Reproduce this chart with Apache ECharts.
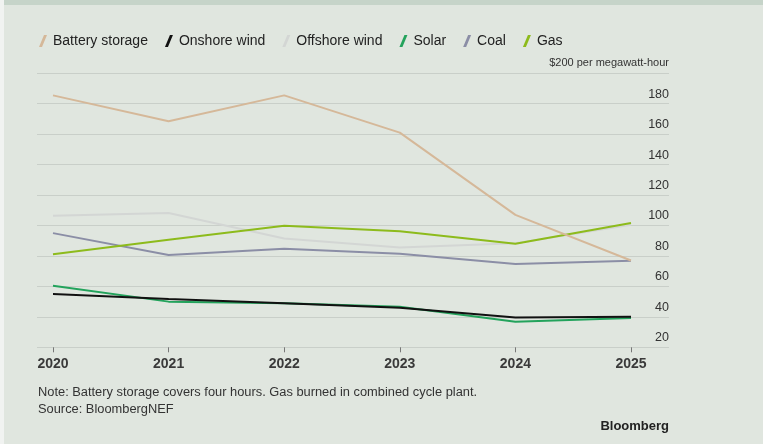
<!DOCTYPE html>
<html><head><meta charset="utf-8">
<script src="https://cdn.jsdelivr.net/npm/echarts@6/dist/echarts.min.js"></script>
<style>html,body{margin:0;padding:0;background:#e0e6df;}#c{width:763px;height:444px;}</style>
</head><body><div id="c"></div>
<script>
const years = ['2020','2021','2022','2023','2024','2025'];
const batteryStorage = [185.5, 168.5, 185.5, 161, 107, 77];
const onshoreWind   = [55, 51.8, 48.9, 46, 39.5, 40];
const offshoreWind  = [106.4, 108.2, 91.5, 85.5, 88.4, 100.5];
const solar         = [60.5, 50, 49, 46.7, 36.8, 39.3];
const coal          = [95, 80.7, 84.8, 81.5, 74.8, 76.8];
const gas           = [81.2, 90.6, 99.8, 96.3, 88, 101.6];
const yMin = 20, yMax = 200, yStep = 20;
const unitLabel = '$200 per megawatt-hour';
const noteText = 'Note: Battery storage covers four hours. Gas burned in combined cycle plant.';
const sourceText = 'Source: BloombergNEF';
const brandText = 'Bloomberg';

const FONT = '"Liberation Sans", Arial, sans-serif';
const icon = 'path://M5,0 L8,0 L3,12 L0,12 Z';
const colors = {
  'Battery storage': '#d5b899',
  'Onshore wind': '#111111',
  'Offshore wind': '#d3d6d4',
  'Solar': '#23a35c',
  'Coal': '#8b8ea6',
  'Gas': '#8dbb1c'
};
function mk(name, data, z) {
  return {
    name, type: 'line', data, xAxisIndex: 1, yAxisIndex: 1, z,
    symbol: 'none', smooth: false, animation: false,
    lineStyle: { color: colors[name], width: 2 },
    itemStyle: { color: colors[name] }
  };
}
const chart = echarts.init(document.getElementById('c'), null, { renderer: 'canvas' });
chart.setOption({
  backgroundColor: '#e0e6df',
  animation: false,
  textStyle: { fontFamily: FONT },
  legend: {
    left: 34, top: 29,
    icon: icon, itemWidth: 10, itemHeight: 12, itemGap: 17,
    textStyle: { fontSize: 14, color: '#222', fontFamily: FONT },
    data: ['Battery storage','Onshore wind','Offshore wind','Solar','Coal','Gas']
  },
  grid: [
    { left: 37, right: 94, top: 73.3, bottom: 96.7 },
    { left: 53, right: 132, top: 73.3, bottom: 96.7 }
  ],
  xAxis: [
    { gridIndex: 0, type: 'value', show: false, min: 0, max: 1 },
    { gridIndex: 1, type: 'category', data: years, boundaryGap: false,
      axisLine: { show: false },
      axisTick: { show: true, length: 5, lineStyle: { color: '#777', width: 1 } },
      axisLabel: { margin: 10, fontSize: 14, fontWeight: 'bold', color: '#3a3a3a', fontFamily: FONT }
    }
  ],
  yAxis: [
    { gridIndex: 0, type: 'value', min: yMin, max: yMax, interval: yStep, position: 'right',
      axisLine: { show: false }, axisTick: { show: false },
      splitLine: { show: true, lineStyle: { color: '#c9cfc9', width: 1 } },
      axisLabel: { inside: true, margin: 0, fontSize: 12.5, color: '#333', fontFamily: FONT,
        verticalAlign: 'bottom', padding: [0, 0, 3, 0],
        formatter: v => v === yMax ? '{u|' + unitLabel + '}' : String(v),
        rich: { u: { fontSize: 11, fontFamily: FONT, color: '#333', padding: [0, 0, 2, 0] } } }
    },
    { gridIndex: 1, type: 'value', min: yMin, max: yMax, interval: yStep, show: false,
      splitLine: { show: false } }
  ],
  series: [
    mk('Offshore wind', offshoreWind, 2),
    mk('Coal', coal, 3),
    mk('Solar', solar, 4),
    mk('Onshore wind', onshoreWind, 5),
    mk('Gas', gas, 6),
    mk('Battery storage', batteryStorage, 7)
  ],
  graphic: [
    { type: 'rect', left: 0, top: 0, shape: { width: 763, height: 5 }, style: { fill: '#c6d4c9' }, z: 10 },
    { type: 'rect', left: 0, top: 0, shape: { width: 4, height: 444 }, style: { fill: '#f1f3f1' }, z: 10 },
    { type: 'text', left: 38, top: 386, style: { text: noteText, fill: '#333', font: '12.85px ' + FONT } },
    { type: 'text', left: 38, top: 403, style: { text: sourceText, fill: '#333', font: '12.85px ' + FONT } },
    { type: 'text', right: 94, top: 420, style: { text: brandText, fill: '#222', font: 'bold 13px ' + FONT } }
  ]
});
</script>
</body></html>
